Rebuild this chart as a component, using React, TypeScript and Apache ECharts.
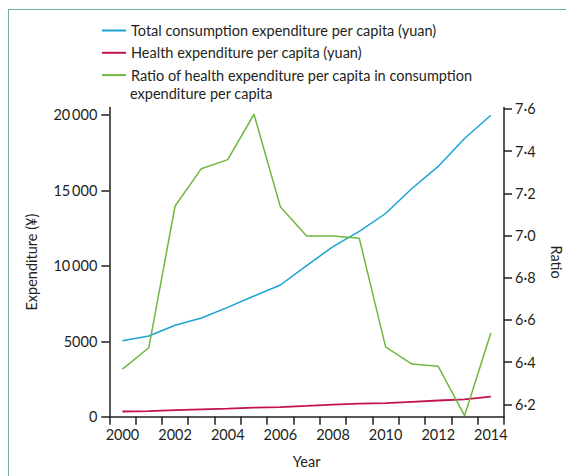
import React, { useEffect, useRef } from "react";
import * as echarts from "echarts";

const years = ["2000", "2001", "2002", "2003", "2004", "2005", "2006", "2007", "2008", "2009", "2010", "2011", "2012", "2013", "2014"];
const totalConsumption = [5030, 5350, 6060, 6540, 7250, 8000, 8730, 10020, 11270, 12280, 13470, 15130, 16590, 18440, 19980];
const healthExpenditure = [345, 365, 440, 490, 540, 605, 640, 715, 795, 865, 895, 985, 1075, 1155, 1330];
const ratio = [6.367, 6.468, 7.14, 7.317, 7.36, 7.575, 7.137, 6.998, 6.998, 6.987, 6.472, 6.391, 6.38, 6.146, 6.538];
const leftTicks = [0, 5000, 10000, 15000, 20000];
const rightTicks = [6.2, 6.4, 6.6, 6.8, 7.0, 7.2, 7.4, 7.6];

const seriesNames = [
  "Total consumption expenditure per capita (yuan)",
  "Health expenditure per capita (yuan)",
  "Ratio of health expenditure per capita in consumption expenditure per capita",
];
const ratioLegendLines = ["Ratio of health expenditure per capita in consumption", "expenditure per capita"];

const FONT = "Lato, 'Open Sans', sans-serif";
const TEXT = "#231f20";
const AXIS = "#231f20";

export default function App() {
  const ref = useRef<HTMLDivElement>(null);
  useEffect(() => {
    if (!ref.current) return;
    const chart = echarts.init(ref.current, undefined, { renderer: "svg" });
    const axisCommon = {
      axisLine: { show: true, lineStyle: { color: AXIS, width: 1.5 } },
      splitLine: { show: false },
      nameTextStyle: { fontFamily: FONT, fontSize: 14.5, color: TEXT },
    };
    chart.setOption({
      animation: false,
      textStyle: { fontFamily: FONT },
      legend: {
        orient: "vertical",
        left: 101,
        top: 23,
        padding: 0,
        itemWidth: 24,
        itemHeight: 14,
        itemGap: 7.3,
        itemStyle: { opacity: 0 },
        textStyle: { fontFamily: FONT, fontSize: 14.5, color: TEXT },
        formatter: (name: string) => (name === seriesNames[2] ? ratioLegendLines[0] : name),
        data: seriesNames,
      },
      graphic: [
        {
          type: "text",
          left: 130,
          top: 85.5,
          style: { text: ratioLegendLines[1], fontFamily: FONT, fontSize: 14.5, fill: TEXT },
        },
      ],
      grid: { left: 109.3, right: 62, top: 107.5, bottom: 59.3, containLabel: false, outerBoundsMode: "none" },
      xAxis: {
        type: "category",
        data: years,
        boundaryGap: true,
        name: "Year",
        nameLocation: "middle",
        nameGap: 37,
        ...axisCommon,
        axisTick: { show: true, length: 8, interval: 0, lineStyle: { color: AXIS, width: 1.5 } },
        axisLabel: { interval: 1, margin: 10, fontFamily: FONT, fontSize: 14.5, color: TEXT },
      },
      yAxis: [
        {
          type: "value",
          min: 0,
          max: 20497,
          name: "Expenditure (¥)",
          nameLocation: "middle",
          nameGap: 70,
          ...axisCommon,
          axisTick: { show: true, length: 8, customValues: leftTicks, lineStyle: { color: AXIS, width: 1.5 } },
          axisLabel: {
            customValues: leftTicks,
            margin: 12,
            fontFamily: FONT,
            fontSize: 14.5,
            color: TEXT,
            formatter: (v: number) => {
              const s = String(Math.round(v));
              return v >= 10000 ? s.slice(0, s.length - 3) + "\u2009" + s.slice(-3) : s;
            },
          },
        },
        {
          type: "value",
          position: "right",
          min: 6.1412,
          max: 7.607,
          name: "Ratio",
          nameLocation: "middle",
          nameRotate: -90,
          nameGap: 45,
          ...axisCommon,
          axisTick: { show: true, length: 8, customValues: rightTicks, lineStyle: { color: AXIS, width: 1.5 } },
          axisLabel: {
            customValues: rightTicks,
            margin: 11,
            fontFamily: FONT,
            fontSize: 14.5,
            color: TEXT,
            formatter: (v: number) => v.toFixed(1).replace(".", "\u00b7"),
          },
        },
      ],
      series: [
        {
          name: seriesNames[0],
          type: "line",
          yAxisIndex: 0,
          data: totalConsumption,
          symbol: "none",
          lineStyle: { color: "#1ba3d3", width: 1.5 },
          itemStyle: { color: "#1ba3d3" },
        },
        {
          name: seriesNames[1],
          type: "line",
          yAxisIndex: 0,
          data: healthExpenditure,
          symbol: "none",
          lineStyle: { color: "#c3124c", width: 1.8 },
          itemStyle: { color: "#c3124c" },
        },
        {
          name: seriesNames[2],
          type: "line",
          yAxisIndex: 1,
          data: ratio,
          symbol: "none",
          lineStyle: { color: "#6fb83f", width: 1.5 },
          itemStyle: { color: "#6fb83f" },
        },
      ],
    });
    return () => chart.dispose();
  }, []);
  return (
    <div
      style={{
        position: "fixed",
        left: 0,
        top: 0,
        width: 566,
        height: 476,
        background: "#fff",
      }}
    >
      <div
        style={{
          position: "absolute",
          left: 8,
          top: 9,
          width: 600,
          height: 500,
          borderLeft: "1.5px solid #72b394",
          borderTop: "1.5px solid #72b394",
        }}
      />
      <div ref={ref} style={{ position: "absolute", left: 0, top: 0, width: 566, height: 476 }} />
    </div>
  );
}
